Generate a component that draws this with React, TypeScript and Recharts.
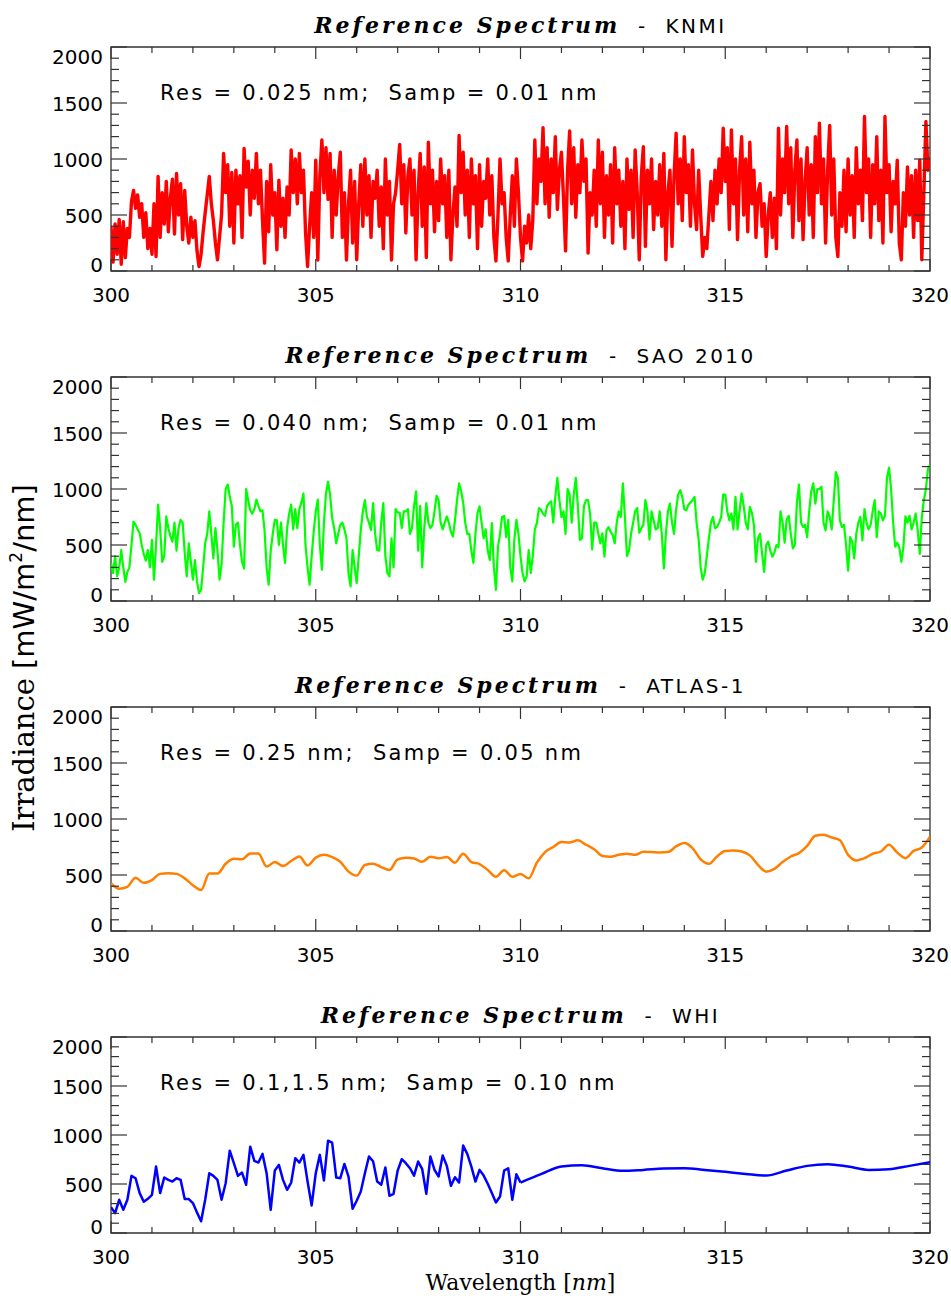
import React from "react";
import { LineChart, Line, XAxis, YAxis, ReferenceArea } from "recharts";

// axis ticks
const X_TICKS = [300, 301, 302, 303, 304, 305, 306, 307, 308, 309, 310, 311, 312, 313, 314, 315, 316, 317, 318, 319, 320];
const X_LABELS = [300, 305, 310, 315, 320];
const Y_TICKS = [0, 100, 200, 300, 400, 500, 600, 700, 800, 900, 1000, 1100, 1200, 1300, 1400, 1500, 1600, 1700, 1800, 1900, 2000];
const Y_LABELS = [0, 500, 1000, 1500, 2000];

const TITLES = ["KNMI", "SAO 2010", "ATLAS-1", "WHI"];
const NOTES = [
  "Res = 0.025 nm;  Samp = 0.01 nm",
  "Res = 0.040 nm;  Samp = 0.01 nm",
  "Res = 0.25 nm;  Samp = 0.05 nm",
  "Res = 0.1,1.5 nm;  Samp = 0.10 nm",
];

// KNMI, read every 0.05 nm from 300 nm
const KNMI_START = 300;
const KNMI_STEP = 0.05;
const KNMI = [
  400, 80, 420, 150, 460, 60, 440, 120, 380, 300,
  620, 720, 560, 680, 480, 600, 300, 520, 200, 380,
  150, 600, 130, 845, 300, 700, 420, 800, 350, 650,
  820, 330, 870, 500, 780, 280, 720, 400, 250, 480,
  300, 450, 180, 40, 150, 350, 520, 680, 845, 600,
  450, 250, 100, 300, 500, 1050, 700, 950, 400, 880,
  250, 900, 600, 850, 300, 1095, 750, 980, 500, 900,
  650, 1050, 600, 900, 450, 70, 800, 350, 950, 500,
  700, 190, 810, 400, 650, 300, 750, 500, 1080, 700,
  1000, 600, 1050, 700, 900, 350, 40, 400, 700, 300,
  990, 98, 850, 1170, 700, 1100, 640, 1050, 300, 900,
  500, 850, 1060, 300, 700, 98, 600, 900, 250, 800,
  100, 600, 950, 400, 1000, 500, 850, 300, 800, 650,
  900, 400, 750, 200, 1000, 500, 800, 98, 600, 700,
  900, 1130, 600, 950, 340, 850, 1000, 500, 900, 100,
  700, 1050, 400, 930, 120, 1150, 600, 900, 350, 800,
  450, 1000, 600, 850, 300, 900, 100, 500, 750, 400,
  1210, 700, 1060, 500, 900, 300, 1000, 600, 850, 200,
  950, 400, 800, 650, 1000, 500, 850, 300, 90, 500,
  1000, 600, 700, 300, 90, 500, 850, 400, 1000, 700,
  300, 90, 400, 250, 500, 200, 450, 1170, 600, 1000,
  800, 1280, 600, 1100, 480, 1000, 700, 1200, 550, 900,
  1060, 650, 180, 900, 1250, 600, 1100, 480, 950, 700,
  1170, 800, 1000, 160, 700, 500, 900, 400, 1170, 600,
  1060, 300, 850, 500, 950, 250, 1100, 600, 900, 400,
  800, 200, 1000, 550, 900, 300, 1080, 700, 100, 850,
  1110, 220, 900, 600, 1000, 370, 800, 500, 950, 400,
  1050, 100, 700, 900, 220, 850, 1230, 600, 1000, 450,
  1200, 700, 950, 400, 1080, 600, 370, 900, 500, 130,
  300, 200, 500, 800, 450, 900, 600, 1000, 700, 1275,
  800, 1100, 370, 1260, 600, 1000, 280, 900, 1200, 500,
  1000, 350, 1150, 600, 900, 300, 700, 780, 400, 600,
  130, 500, 700, 300, 650, 200, 1275, 500, 1000, 700,
  1290, 600, 1100, 300, 900, 1170, 450, 1000, 280, 800,
  1100, 500, 950, 300, 1200, 700, 1320, 600, 1000, 250,
  900, 1300, 500, 1000, 300, 130, 700, 400, 900, 350,
  1000, 500, 850, 300, 1100, 600, 900, 450, 1380, 700,
  1000, 300, 950, 600, 1200, 450, 900, 250, 1380, 700,
  950, 350, 800, 600, 990, 250, 100, 700, 400, 930,
  500, 850, 300, 900, 450, 990, 100, 700, 1335, 900,
  1020,
];

// SAO 2010, read every 0.05 nm from 300 nm
const SAO_START = 300;
const SAO_STEP = 0.05;
const SAO = [
  340, 250, 400, 220, 300, 455, 300, 170, 260, 300,
  500, 710, 680, 640, 605, 500, 420, 360, 455, 300,
  545, 190, 500, 860, 650, 350, 400, 755, 650, 580,
  530, 700, 450, 650, 725, 700, 430, 220, 515, 350,
  190, 365, 175, 70, 100, 300, 515, 600, 800, 600,
  380, 650, 450, 190, 330, 700, 1000, 1040, 930, 850,
  485, 680, 700, 500, 350, 290, 1000, 900, 810, 780,
  820, 905, 850, 800, 810, 630, 300, 145, 450, 600,
  725, 720, 500, 700, 500, 340, 650, 780, 860, 640,
  820, 650, 820, 880, 960, 500, 300, 145, 400, 620,
  800, 905, 500, 280, 700, 960, 1065, 950, 740, 650,
  515, 600, 680, 700, 640, 560, 250, 130, 455, 300,
  160, 400, 635, 800, 900, 750, 700, 635, 875, 600,
  455, 450, 700, 875, 400, 250, 220, 560, 300, 820,
  790, 790, 650, 800, 800, 820, 600, 650, 850, 980,
  450, 850, 300, 650, 875, 700, 650, 680, 800, 940,
  900, 700, 640, 700, 755, 700, 620, 575, 720, 900,
  1050, 980, 880, 700, 600, 600, 450, 340, 600, 785,
  845, 700, 560, 640, 450, 365, 695, 300, 100, 485,
  600, 750, 760, 570, 725, 300, 175, 550, 725, 600,
  400, 250, 175, 220, 455, 250, 400, 640, 695, 830,
  815, 780, 760, 850, 875, 890, 700, 930, 1100, 900,
  750, 800, 600, 1000, 950, 700, 950, 1100, 850, 545,
  560, 850, 900, 900, 780, 460, 700, 700, 600, 515,
  605, 395, 630, 660, 620, 590, 515, 700, 800, 750,
  1050, 750, 400, 450, 600, 700, 800, 830, 610, 650,
  680, 900, 800, 550, 800, 720, 640, 650, 800, 600,
  290, 600, 800, 870, 700, 600, 820, 950, 990, 930,
  820, 810, 860, 880, 900, 930, 700, 550, 300, 190,
  250, 400, 560, 700, 750, 650, 660, 700, 750, 950,
  950, 800, 720, 780, 640, 930, 640, 800, 960, 850,
  700, 640, 840, 790, 680, 350, 560, 600, 420, 260,
  500, 530, 450, 395, 430, 500, 480, 800, 700, 520,
  730, 760, 600, 470, 500, 880, 1040, 700, 660, 680,
  570, 800, 980, 1050, 870, 1000, 1000, 1020, 700, 630,
  800, 750, 640, 900, 1150, 1100, 720, 660, 680, 500,
  270, 570, 530, 380, 600, 700, 750, 540, 820, 700,
  640, 680, 800, 900, 570, 800, 780, 720, 760, 1100,
  1190, 1000, 700, 485, 520, 480, 350, 480, 755, 700,
  760, 640, 700, 780, 630, 420, 750, 900, 1000, 1180,
  1215,
];

// ATLAS-1, read every 0.2 nm from 300 nm
const ATLAS_START = 300;
const ATLAS_STEP = 0.2;
const ATLAS = [
  424, 378, 395, 475, 430, 455, 510, 515, 510, 470,
  409, 365, 513, 513, 600, 645, 640, 692, 692, 575,
  615, 580, 625, 665, 585, 655, 680, 660, 618, 530,
  495, 590, 600, 570, 545, 640, 655, 648, 618, 663,
  650, 660, 610, 690, 615, 598, 545, 484, 543, 484,
  510, 470, 610, 705, 750, 795, 790, 810, 770, 730,
  670, 663, 680, 690, 680, 707, 705, 702, 705, 755,
  785, 740, 640, 600, 665, 715, 718, 710, 675, 590,
  530, 555, 615, 665, 695, 760, 850, 860, 835, 810,
  680, 630, 650, 690, 710, 770, 700, 650, 715, 745,
  842,
];

// WHI, 0.1 nm steps below 310 nm, smooth part read every 0.5 nm above
const WHI_FINE_START = 300;
const WHI_FINE_STEP = 0.1;
const WHI_FINE = [
  264, 203, 339, 237, 339, 583, 559, 407, 319, 349,
  390, 678, 407, 566, 542, 525, 559, 542, 346, 346,
  305, 210, 119, 339, 610, 583, 542, 339, 508, 840,
  712, 583, 617, 492, 881, 736, 719, 807, 610, 237,
  637, 695, 542, 441, 515, 763, 719, 797, 525, 281,
  610, 797, 536, 942, 922, 566, 559, 705, 576, 247,
  329, 424, 610, 780, 732, 525, 492, 668, 380, 400,
  637, 753, 712, 661, 586, 729, 651, 400, 780, 644,
  576, 790, 685, 481, 569, 515, 892, 807, 678, 525,
  644, 586, 502, 407, 312, 373, 637, 661, 339, 600,
  515,
];
const WHI_SMOOTH_START = 310;
const WHI_SMOOTH_STEP = 0.5;
const WHI_SMOOTH = [
  515, 600, 678, 692, 661, 634, 644, 658, 661, 644,
  624, 603, 586, 637, 685, 702, 678, 644, 651, 685,
  722,
];

type Pt = { x: number; y: number };
const toPoints = (start: number, step: number, values: number[]): Pt[] =>
  values.map((v, i) => ({ x: Math.round((start + i * step) * 1000) / 1000, y: v }));

const AXIS = "#333";
const SANS = "DejaVu Sans";
const SERIF = "DejaVu Serif";
const W = 951;
const PLOT_LEFT = 111;
const PLOT_RIGHT = 930;
const PLOT_TOP = 47;

type Series = { data: Pt[]; color: string; width: number; curve: "linear" | "monotone" };

function Panel({ height, plotBottom, series }: { height: number; plotBottom: number; series: Series[] }) {
  const xTick = (props: any) => {
    const { x, y, payload } = props;
    const v = payload.value;
    const major = X_LABELS.includes(v);
    const len = major ? 12 : 6;
    return (
      <g>
        <line x1={x} x2={x} y1={y} y2={y - len} stroke={AXIS} strokeWidth={1.2} />
        <line x1={x} x2={x} y1={PLOT_TOP} y2={PLOT_TOP + len} stroke={AXIS} strokeWidth={1.2} />
        {major && (
          <text x={x} y={y + 31} textAnchor="middle" fontFamily={SANS} fontSize={20} fill="#000">
            {v}
          </text>
        )}
      </g>
    );
  };

  const yTick = (props: any) => {
    const { x, y, payload } = props;
    const v = payload.value;
    const major = Y_LABELS.includes(v);
    const len = major ? 16 : 8;
    const nudge = v === 0 ? -7 : v === 2000 ? 9 : 0;
    return (
      <g>
        <line x1={x} x2={x + len} y1={y} y2={y} stroke={AXIS} strokeWidth={1.2} />
        <line x1={PLOT_RIGHT - len} x2={PLOT_RIGHT} y1={y} y2={y} stroke={AXIS} strokeWidth={1.2} />
        {major && (
          <text x={x - 8} y={y + nudge + 7.5} textAnchor="end" fontFamily={SANS} fontSize={20} fill="#000">
            {v}
          </text>
        )}
      </g>
    );
  };

  return (
    <LineChart
      width={W}
      height={height}
      margin={{ top: PLOT_TOP, right: W - PLOT_RIGHT, bottom: 0, left: 0 }}
    >
      <XAxis
        type="number"
        dataKey="x"
        domain={[300, 320]}
        ticks={X_TICKS}
        interval={0}
        allowDataOverflow
        height={height - plotBottom}
        tickSize={0}
        tickMargin={0}
        tickLine={false}
        axisLine={false}
        tick={xTick}
      />
      <YAxis
        type="number"
        dataKey="y"
        domain={[0, 2000]}
        ticks={Y_TICKS}
        interval={0}
        allowDataOverflow
        width={PLOT_LEFT}
        tickSize={0}
        tickMargin={0}
        tickLine={false}
        axisLine={false}
        tick={yTick}
      />
      {series.map((s, i) => (
        <Line
          key={i}
          data={s.data}
          dataKey="y"
          type={s.curve}
          stroke={s.color}
          strokeWidth={s.width}
          strokeLinejoin="round"
          dot={false}
          activeDot={false}
          isAnimationActive={false}
        />
      ))}
      <ReferenceArea x1={300} x2={320} y1={0} y2={2000} fill="none" stroke={AXIS} strokeWidth={1.3} />
    </LineChart>
  );
}

const PANELS: { top: number; height: number; plotBottom: number; series: Series[] }[] = [
  { top: 0, height: 330, plotBottom: 271, series: [{ data: toPoints(KNMI_START, KNMI_STEP, KNMI), color: "#ff0000", width: 3.4, curve: "linear" }] },
  { top: 330, height: 330, plotBottom: 271, series: [{ data: toPoints(SAO_START, SAO_STEP, SAO), color: "#00ff00", width: 2.2, curve: "linear" }] },
  { top: 660, height: 330, plotBottom: 271, series: [{ data: toPoints(ATLAS_START, ATLAS_STEP, ATLAS), color: "#ff7f00", width: 2.5, curve: "monotone" }] },
  {
    top: 990,
    height: 306,
    plotBottom: 243,
    series: [
      { data: toPoints(WHI_FINE_START, WHI_FINE_STEP, WHI_FINE), color: "#0000ff", width: 2.5, curve: "linear" },
      { data: toPoints(WHI_SMOOTH_START, WHI_SMOOTH_STEP, WHI_SMOOTH), color: "#0000ff", width: 2.5, curve: "monotone" },
    ],
  },
];

export default function App() {
  const cx = (PLOT_LEFT + PLOT_RIGHT) / 2;
  return (
    <div style={{ position: "absolute", left: 0, top: 0, width: W, height: 1296, background: "#fff", overflow: "hidden" }}>
      {PANELS.map((p, i) => (
        <div key={i} style={{ position: "absolute", left: 0, top: p.top }}>
          <Panel height={p.height} plotBottom={p.plotBottom} series={p.series} />
        </div>
      ))}
      <svg width={W} height={1296} style={{ position: "absolute", left: 0, top: 0, pointerEvents: "none" }}>
        {PANELS.map((p, i) => (
          <g key={i}>
            <text x={cx} y={p.top + 33} textAnchor="middle" style={{ whiteSpace: "pre" }} fill="#000">
              <tspan fontFamily={SERIF} fontStyle="italic" fontWeight="bold" fontSize={22} letterSpacing={3}>
                Reference Spectrum
              </tspan>
              <tspan fontFamily={SANS} fontSize={20} letterSpacing={2.5}>{"  -  " + TITLES[i]}</tspan>
            </text>
            <text x={160} y={p.top + 100} fontFamily={SANS} fontSize={21} letterSpacing={2.3} style={{ whiteSpace: "pre" }} fill="#000">
              {NOTES[i]}
            </text>
          </g>
        ))}
        <text transform="rotate(-90 34 658)" x={34} y={658} textAnchor="middle" fontSize={29} fill="#000">
          <tspan fontFamily={SERIF}>Irradiance </tspan>
          <tspan fontFamily={SANS}>[mW/m</tspan>
          <tspan fontFamily={SANS} fontSize={17} dy={-12}>2</tspan>
          <tspan fontFamily={SANS} dy={12}>/nm]</tspan>
        </text>
        <text x={cx} y={1290} textAnchor="middle" fontFamily={SERIF} fontSize={22} fill="#000">
          <tspan>Wavelength </tspan>
          <tspan>[</tspan>
          <tspan fontStyle="italic">nm</tspan>
          <tspan>]</tspan>
        </text>
      </svg>
    </div>
  );
}
